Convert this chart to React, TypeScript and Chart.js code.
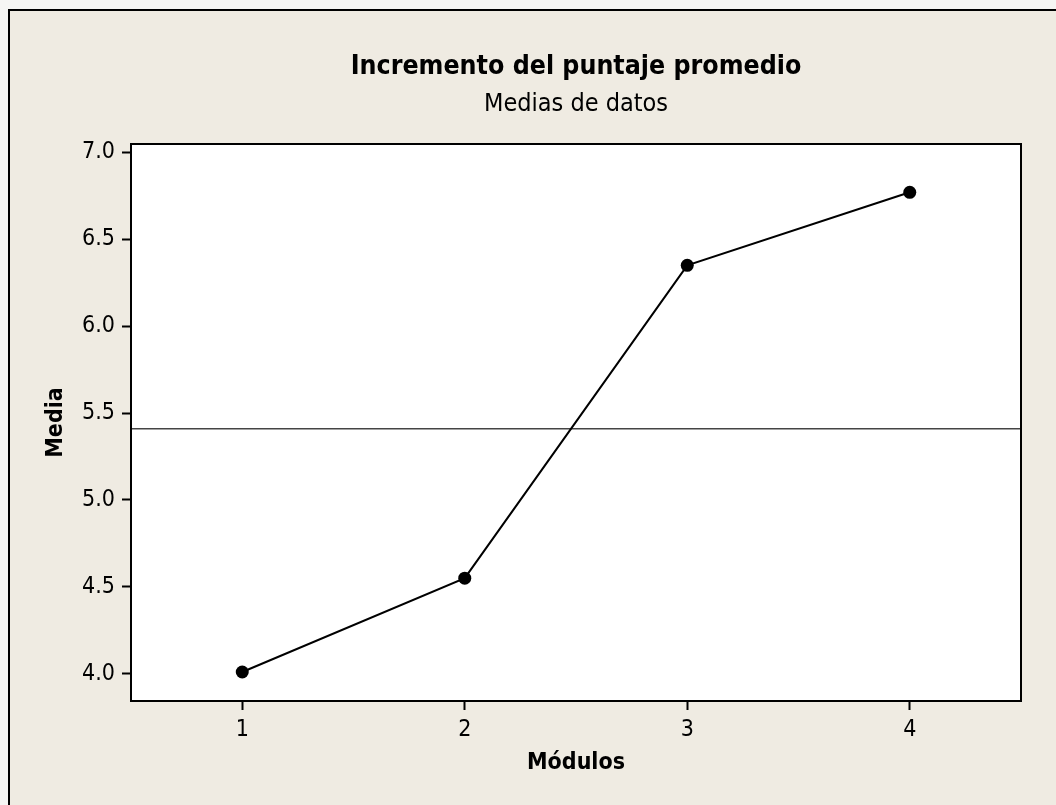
import React, { useEffect, useRef } from "react";
import { Chart, registerables } from "chart.js";

Chart.register(...registerables);

// ---- data ----
const modules = [1, 2, 3, 4];
const means = [4.01, 4.55, 6.35, 6.77];
const grandMean = 5.41;
const xTicks = [1, 2, 3, 4];
const yTicks = [4.0, 4.5, 5.0, 5.5, 6.0, 6.5, 7.0];
const xMin = 0.5;
const xMax = 4.5;
const yMin = 3.843;
const yMax = 7.048;
const titleText = "Incremento del puntaje promedio";
const subtitleText = "Medias de datos";
const xTitle = "Módulos";
const yTitle = "Media";

const FONT = "'DejaVu Sans Condensed', 'DejaVu Sans', sans-serif";
const W = 1056;
const H = 805;

const framePlugin = {
  id: "frame",
  beforeDraw(chart: any) {
    const { ctx, chartArea } = chart;
    ctx.save();
    ctx.fillStyle = "#F6F6F4";
    ctx.fillRect(0, 0, W, H);
    ctx.fillStyle = "#EFEBE2";
    ctx.fillRect(8, 10, W, H);
    ctx.strokeStyle = "#000";
    ctx.lineWidth = 2;
    ctx.beginPath();
    ctx.moveTo(9, H + 5);
    ctx.lineTo(9, 10);
    ctx.lineTo(W + 5, 10);
    ctx.stroke();
    ctx.fillStyle = "#FFFFFF";
    ctx.fillRect(chartArea.left, chartArea.top, chartArea.right - chartArea.left, chartArea.bottom - chartArea.top);
    ctx.restore();
  },
  afterDraw(chart: any) {
    const { ctx, chartArea } = chart;
    ctx.save();
    ctx.strokeStyle = "#000";
    ctx.lineWidth = 2;
    ctx.strokeRect(chartArea.left, chartArea.top, chartArea.right - chartArea.left, chartArea.bottom - chartArea.top);
    const cx = (chartArea.left + chartArea.right) / 2;
    ctx.fillStyle = "#000";
    ctx.textAlign = "center";
    ctx.textBaseline = "alphabetic";
    ctx.font = `bold 26.5px ${FONT}`;
    ctx.fillText(titleText, cx, 74);
    ctx.font = `25px ${FONT}`;
    ctx.fillText(subtitleText, cx, 111);
    ctx.restore();
  },
};

export default function App() {
  const ref = useRef<HTMLCanvasElement | null>(null);

  useEffect(() => {
    if (!ref.current) return;
    const chart = new Chart(ref.current, {
      type: "scatter",
      data: {
        datasets: [
          {
            label: "Media",
            data: modules.map((m, i) => ({ x: m, y: means[i] })),
            showLine: true,
            borderColor: "#000",
            borderWidth: 2,
            pointRadius: 6.5,
            pointBackgroundColor: "#000",
            pointBorderColor: "#000",
            pointBorderWidth: 0,
            order: 0,
          },
          {
            label: "Media general",
            data: [
              { x: xMin, y: grandMean },
              { x: xMax, y: grandMean },
            ],
            showLine: true,
            borderColor: "#444",
            borderWidth: 1.5,
            pointRadius: 0,
            order: 1,
          },
        ],
      },
      options: {
        responsive: false,
        animation: false,
        devicePixelRatio: 1,
        layout: { padding: { left: 0, top: 144, right: 35, bottom: 0 } },
        plugins: {
          legend: { display: false },
          tooltip: { enabled: false },
          title: { display: false },
        },
        scales: {
          x: {
            type: "linear",
            min: xMin,
            max: xMax,
            afterBuildTicks: (s: any) => {
              s.ticks = xTicks.map((v) => ({ value: v }));
            },
            afterFit: (s: any) => {
              s.height = 104;
            },
            ticks: {
              color: "#000",
              font: { family: FONT, size: 23 },
              padding: 6,
              callback: (v: any) => String(v),
            },
            grid: {
              display: true,
              drawOnChartArea: false,
              drawTicks: true,
              tickLength: 9,
              tickWidth: 2,
              tickColor: "#000",
            },
            border: { display: true, color: "#000", width: 2 },
            title: {
              display: true,
              text: xTitle,
              color: "#000",
              font: { family: FONT, size: 23, weight: "bold" },
              padding: { top: 0, bottom: 28 },
            },
          },
          y: {
            type: "linear",
            min: yMin,
            max: yMax,
            afterBuildTicks: (s: any) => {
              s.ticks = yTicks.map((v) => ({ value: v }));
            },
            afterFit: (s: any) => {
              s.width = 131;
            },
            ticks: {
              color: "#000",
              font: { family: FONT, size: 23 },
              padding: 7,
              callback: (v: any) => Number(v).toFixed(1),
            },
            grid: {
              display: true,
              drawOnChartArea: false,
              drawTicks: true,
              tickLength: 9,
              tickWidth: 2,
              tickColor: "#000",
            },
            border: { display: true, color: "#000", width: 2 },
            title: {
              display: true,
              text: yTitle,
              color: "#000",
              font: { family: FONT, size: 23, weight: "bold" },
              padding: { top: 42, bottom: 0 },
            },
          },
        },
      },
      plugins: [framePlugin],
    });
    return () => chart.destroy();
  }, []);

  return (
    <div style={{ position: "fixed", left: 0, top: 0, width: W, height: H }}>
      <canvas ref={ref} width={W} height={H} style={{ display: "block", width: W, height: H }} />
    </div>
  );
}
